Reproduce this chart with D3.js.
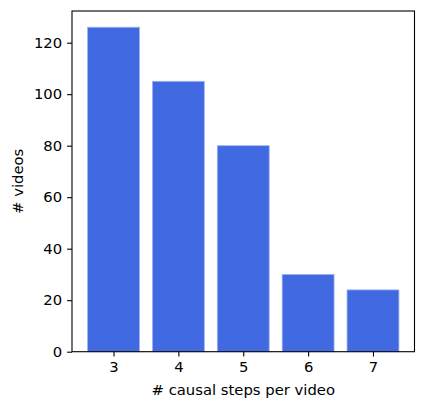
<!DOCTYPE html>
<html><head><meta charset="utf-8">
<script src="https://cdn.jsdelivr.net/npm/d3@7"></script>
<style>body{margin:0;background:#fff}svg{display:block}</style>
</head><body>
<script>
const categories = ["3","4","5","6","7"];
const values = [126,105,80,30,24];
const yTicks = [0,20,40,60,80,100,120];

const W=426,H=410;
const m={left:72,right:11.5,top:11,bottom:58.3};
const svg=d3.select("body").append("svg").attr("width",W).attr("height",H);
const pw=W-m.left-m.right, ph=H-m.top-m.bottom;
const n=categories.length;
const x=d3.scaleLinear().domain([-0.64,n-1+0.64]).range([m.left,m.left+pw]);
const y=d3.scaleLinear().domain([0,d3.max(values)*1.05]).range([m.top+ph,m.top]);
const font="DejaVu Sans, sans-serif";
const fs=14.8;

svg.append("g").selectAll("rect").data(values).join("rect")
  .attr("x",(d,i)=>x(i-0.4)).attr("width",x(0.4)-x(-0.4))
  .attr("y",d=>y(d)).attr("height",d=>y(0)-y(d))
  .attr("fill","#4169e1").attr("stroke","#9fb3f0").attr("stroke-width",0.8);

const yAxis=svg.append("g").attr("transform",`translate(${m.left},0)`)
  .call(d3.axisLeft(y).tickValues(yTicks).tickSize(4.9).tickPadding(4.9).tickFormat(d3.format("d")));
const xAxis=svg.append("g").attr("transform",`translate(0,${m.top+ph})`)
  .call(d3.axisBottom(x).tickValues(d3.range(n)).tickSize(4.9).tickPadding(4.9).tickFormat(i=>categories[i]));
[yAxis,xAxis].forEach(g=>{
  g.select(".domain").remove();
  g.selectAll("line").attr("stroke","#000").attr("stroke-width",1.1);
  g.selectAll("text").attr("font-family",font).attr("font-size",fs).attr("fill","#000");
});

svg.append("rect").attr("x",m.left).attr("y",m.top).attr("width",pw).attr("height",ph)
  .attr("fill","none").attr("stroke","#000").attr("stroke-width",1.1);

svg.append("text").attr("x",m.left+pw/2).attr("y",390).attr("dy","0.35em")
  .attr("text-anchor","middle").attr("font-family",font).attr("font-size",fs)
  .text("# causal steps per video");
svg.append("text").attr("transform",`translate(18,${m.top+ph/2}) rotate(-90)`).attr("dy","0.35em")
  .attr("text-anchor","middle").attr("font-family",font).attr("font-size",fs)
  .text("# videos");
</script>
</body></html>
